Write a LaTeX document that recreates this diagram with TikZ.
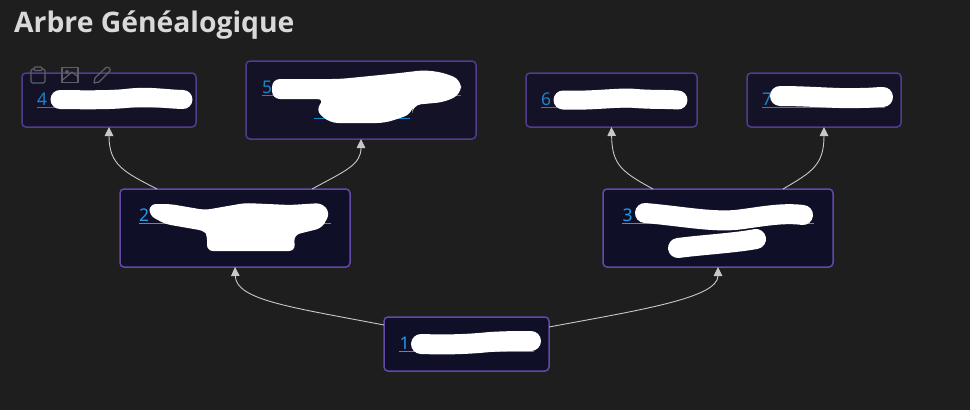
\documentclass[tikz,border=0pt]{standalone}
\usepackage{fontspec}
\setmainfont{Noto Sans}
\newfontfamily\titlefont{Open Sans}
\usetikzlibrary{calc,arrows.meta}
\definecolor{bgc}{HTML}{1E1E1E}
\definecolor{boxa}{HTML}{0F0F28}
\definecolor{boxb}{HTML}{141227}
\definecolor{edgea}{HTML}{6548A8}
\definecolor{edgeb}{HTML}{523C8C}
\definecolor{linka}{HTML}{1E9CF0}
\definecolor{linkb}{HTML}{1B84CC}
\definecolor{wirec}{HTML}{C8C8C8}
\definecolor{titlec}{HTML}{D9D9D9}
\definecolor{iconc}{HTML}{5E5E66}
\tikzset{
  box/.style={draw=edgea,fill=boxa,line width=1.5pt,rounded corners=4pt,outer sep=0pt,inner sep=0pt},
  topbox/.style={box,draw=edgeb,fill=boxb},
  num/.style={anchor=base west,inner sep=0pt,font=\fontsize{17.5}{18}\selectfont,text=linka},
  topnum/.style={num,text=linkb},
  uline/.style={draw=linka,line width=1pt},
  topuline/.style={draw=linkb,line width=1pt},
  wire/.style={draw=wirec,line width=0.9pt,-{Triangle[length=9pt,width=8.5pt]}},
  scrib/.style={draw=white,line cap=round,line join=round},
  blob/.style={fill=white,rounded corners=6pt},
  icon/.style={draw=iconc,line width=1.2pt,line join=round}
}
\begin{document}
\begin{tikzpicture}[x=1pt,y=-1pt]
\fill[bgc] (0,0) rectangle (970,410);
\useasboundingbox (0,0) rectangle (970,410);
\node[anchor=base west,inner sep=0pt,text=titlec,font=\fontsize{28.3}{29}\selectfont\titlefont\bfseries] (title) at (14,32) {Arbre Généalogique};

% boxes
\node[topbox,minimum width=174pt,minimum height=54pt] (n4) at (109,100) {};
\node[topbox,minimum width=230pt,minimum height=78pt] (n5) at (361,100) {};
\node[topbox,minimum width=171pt,minimum height=54pt] (n6) at (611.5,100) {};
\node[topbox,minimum width=154pt,minimum height=54pt] (n7) at (824,100) {};
\node[box,minimum width=230pt,minimum height=78pt] (n2) at (235,228) {};
\node[box,minimum width=230pt,minimum height=78pt] (n3) at (718,228) {};
\node[box,minimum width=165pt,minimum height=54pt] (n1) at (466.5,344) {};

% connectors
\draw[wire] ($(n2.north west)+(37,0)$) .. controls (124,172) and (109,165) .. (n4.south);
\draw[wire] ($(n2.north east)+(-38,0)$) .. controls (345,171) and (361,165) .. (n5.south);
\draw[wire] ($(n3.north west)+(50,0)$) .. controls (622,172) and (612,165) .. (n6.south);
\draw[wire] ($(n3.north east)+(-50,0)$) .. controls (812,172) and (824,165) .. (n7.south);
\draw[wire] ($(n1.north west)+(0,8)$) .. controls (290,307) and (236,300) .. (n2.south);
\draw[wire] ($(n1.north east)+(0,10)$) .. controls (640,310) and (718,298) .. (n3.south);

% link texts
\node[topnum] (t4) at (37,105.5) {4};
\node[topnum] (t5) at (262,93.5) {5};
\node[topnum] (t6) at (541,105.5) {6};
\node[topnum] (t7) at (762,105.5) {7};
\node[num] (t2) at (139,221.5) {2};
\node[num] (t3) at (622.5,221.5) {3};
\node[num] (t1) at (399.5,349.5) {1};
\path[topuline] (37,107.5) -- (180,107.5);
\path[topuline] (262,95.5) -- (461,95.5);
\path[topuline] (314,118.5) -- (410,118.5);
\path[topuline] (541,107.5) -- (680,107.5);
\path[topuline] (762,107.5) -- (885,107.5);
\path[uline] (139,223.5) -- (331,223.5);
\path[uline] (622,223.5) -- (814,223.5);
\path[uline] (399,351) -- (534,351);

% toolbar icons
\draw[icon,rounded corners=1.5pt] (31,69) rectangle (45,83);
\draw[icon,fill=bgc,rounded corners=1pt] (34,67) rectangle (42,70.5);
\draw[icon] (62,67.5) rectangle (78,82.5);
\draw[icon] (62,80.5) -- (72,72) -- (78,77);
\draw[icon] (67,72) circle (1.5);
\draw[icon] (94,83) -- (95,78) -- (106,67.5) .. controls (108,66) and (111,69) .. (110,71) -- (99,82) -- cycle;

% scribbles
\draw[scrib,line width=19pt] (60,99.5) .. controls (90,100) and (115,100) .. (130,98) .. controls (150,96) and (165,99) .. (183,99.5);
\fill[blob,rounded corners=8pt] (272,79) -- (340,79) -- (400,73) -- (425,70) -- (445,73) -- (461,80) -- (461,94) -- (445,102) -- (413,105) -- (412,114) -- (385,123) -- (330,123) -- (315,110) -- (325,99) -- (272,99) -- cycle;
\draw[scrib,line width=19pt] (563,100) .. controls (590,101) and (610,98) .. (630,98) .. controls (650,100) and (665,99) .. (678,100);
\draw[scrib,line width=20pt] (780,96) .. controls (810,96) and (840,99) .. (860,98) .. controls (870,98) and (878,97) .. (883,97);
\fill[blob] (150,204) -- (170,204) -- (205,210) -- (245,203) -- (290,205) -- (322,203) -- (330,213) -- (322,228) -- (294,235) -- (295,251) -- (207,251) -- (207,234) -- (205,231) -- (165,224) -- (149,215) -- cycle;
\draw[scrib,line width=20pt] (645,213) .. controls (680,216) and (710,222) .. (735,220) .. controls (755,218) and (780,212) .. (803,215);
\draw[scrib,line width=20pt] (678,248) .. controls (700,245) and (735,243) .. (756,239);
\draw[scrib,line width=20pt] (421,344) .. controls (450,345) and (470,344) .. (490,342) .. controls (505,341) and (520,341) .. (531,341);
\end{tikzpicture}
\end{document}
